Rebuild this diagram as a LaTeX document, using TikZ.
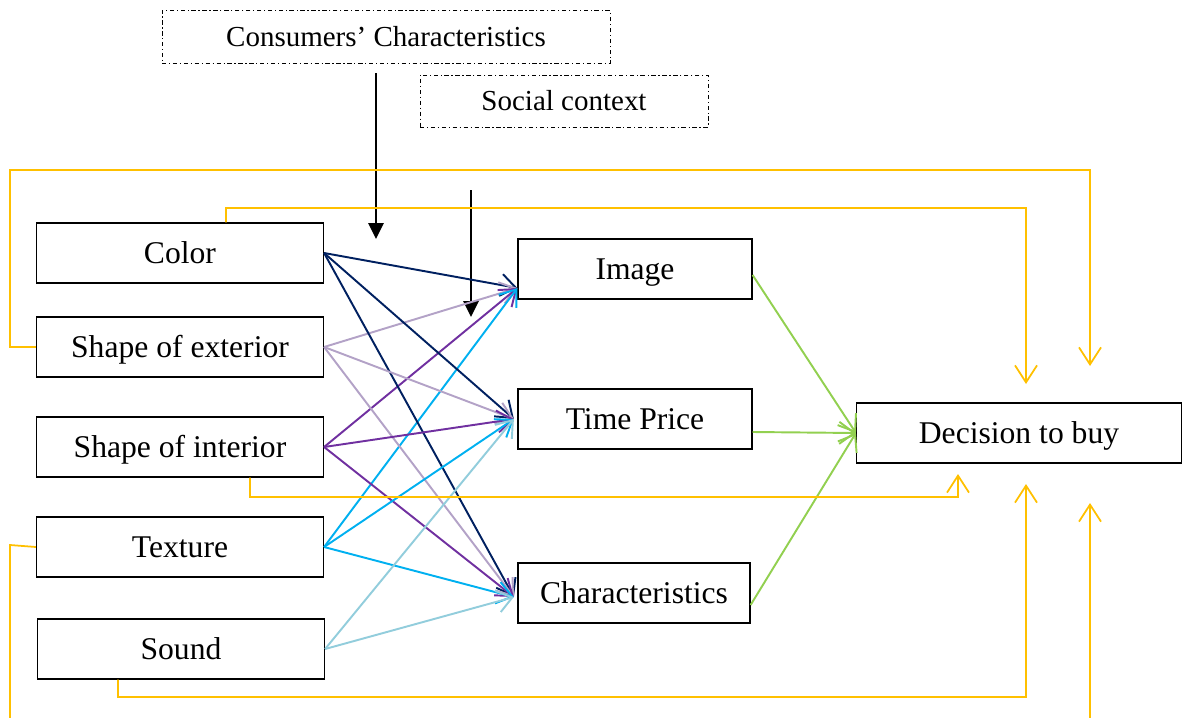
\documentclass[tikz,border=0pt]{standalone}
\usepackage{fontspec}
\setmainfont{Liberation Serif}
\usetikzlibrary{arrows.meta}
\definecolor{navy}{HTML}{002060}
\definecolor{lilac}{HTML}{B3A2C7}
\definecolor{violet}{HTML}{7030A0}
\definecolor{sky}{HTML}{00B0F0}
\definecolor{pale}{HTML}{92CDDC}
\definecolor{leaf}{HTML}{92D050}
\definecolor{amber}{HTML}{FFC000}

\begin{document}
\begin{tikzpicture}[x=0.02cm,y=-0.02cm,
  box/.style={draw,line width=0.7pt,minimum height=1.2cm,inner sep=0pt,text height=12pt,text depth=0.5pt,font=\fontsize{18}{22}\selectfont},
  factor/.style={box,minimum width=5.74cm},
  effect/.style={box,minimum width=4.68cm},
  context/.style={draw,line width=0.5pt,dash pattern=on 2.5pt off 1.5pt on 0.7pt off 1.5pt,inner sep=0pt,text height=11pt,text depth=0.5pt,font=\fontsize{16.5}{20}\selectfont},
  link/.style={line width=1.1pt,-{Straight Barb[length=0.3cm,width=0.44cm]}},
  back/.style={amber,line width=1pt,-{Straight Barb[length=0.34cm,width=0.44cm]}},
  push/.style={line width=1.6pt,-{Triangle[length=0.32cm,width=0.3cm]}}]
  \useasboundingbox (0,0) rectangle (1186,717);

  \node at (386,37) [context,minimum width=8.96cm,minimum height=1.06cm] (consumer) {Consumers’ Characteristics};
  \node at (564,101) [context,minimum width=5.76cm,minimum height=1.04cm] (social) {Social context};

  \node at (180,253) [factor] (color) {Color};
  \node at (180,347) [factor] (exterior) {Shape of exterior};
  \node at (180,447) [factor] (interior) {Shape of interior};
  \node at (180,547) [factor] (texture) {Texture};
  \node at (181,649) [factor] (sound) {Sound};

  \node at (635,269) [effect] (image) {Image};
  \node at (635,419) [effect] (price) {Time Price};
  \node at (634,593) [effect,minimum width=4.64cm] (charac) {Characteristics};

  \node at (1019,433) [box,minimum width=6.5cm] (decision) {Decision to buy};

  % moderators
  \coordinate (c1) at (376,73);
  \coordinate (c2) at (376,239);
  \coordinate (s1) at (471,190);
  \coordinate (s2) at (471,317);
  \draw[push] (c1) -- (c2);
  \draw[push] (s1) -- (s2);

  % sensory cues
  \foreach \src/\col in {color/navy,exterior/lilac,interior/violet,texture/sky} {
    \draw[link,\col] (\src.east) -- ([yshift=-0.38cm]image.west);
  }
  \foreach \src/\col in {color/navy,exterior/lilac,interior/violet,texture/sky,sound/pale} {
    \draw[link,\col] (\src.east) -- ([xshift=-2pt]price.west);
    \draw[link,\col] (\src.east) -- ([xshift=-2pt,yshift=-0.08cm]charac.west);
  }

  \draw[link,leaf] ([yshift=-0.12cm]image.east) -- (decision.west);
  \draw[link,leaf] ([yshift=-0.26cm]price.east) -- (decision.west);
  \draw[link,leaf] ([yshift=-0.24cm]charac.east) -- (decision.west);

  % direct effects
  \coordinate (d1) at (1090,366);
  \coordinate (d2) at (1026,384);
  \coordinate (d3) at (958,474);
  \coordinate (d4) at (1026,484);
  \coordinate (d5) at (1090,503);
  \draw[back] (exterior.west) -- (10,347) -- (10,170) -- (1090,170) -- (d1);
  \draw[back] ([xshift=0.92cm]color.north) -- (226,208) -- (1026,208) -- (d2);
  \draw[back] ([xshift=1.4cm]interior.south) -- (250,497) -- (958,497) -- (d3);
  \draw[back] ([xshift=-1.26cm]sound.south) -- (118,697) -- (1026,697) -- (d4);
  \draw[back] (texture.west) -- (10,545) -- (10,719) -- (1090,719) -- (d5);
\end{tikzpicture}
\end{document}
